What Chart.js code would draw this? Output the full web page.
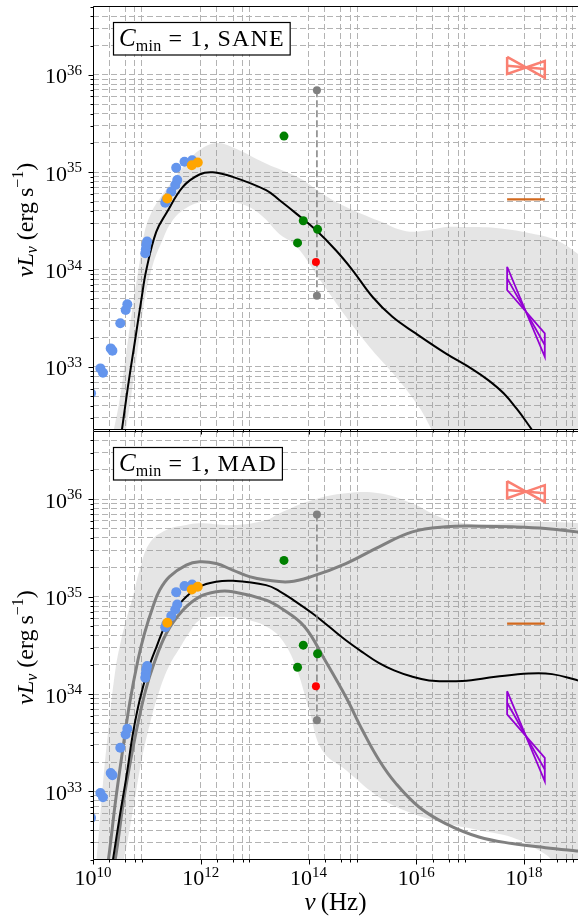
<!DOCTYPE html>
<html><head><meta charset="utf-8">
<script src="https://cdn.jsdelivr.net/npm/chart.js@4.4.0/dist/chart.umd.min.js"></script>
<style>
html,body{margin:0;padding:0;background:#fff;}
#wrap{position:relative;width:578px;height:919px;overflow:hidden;background:#fff;}
canvas{position:absolute;left:0;}
#c1{top:0;} #c2{top:425px;}
</style></head><body>
<div id="wrap"><canvas id="c1" width="578" height="440"></canvas><canvas id="c2" width="578" height="494"></canvas></div>
<script>
// ---------------- data (frequency in Hz, luminosity nuL_nu in erg/s) ----------------
const blueNu = [9.2e9, 8.3e9, 1.37e10, 1.53e10, 2.13e10, 2.29e10, 3.21e10, 4.04e10, 4.34e10, 9.33e10, 9.55e10, 9.75e10, 1.01e11, 2.19e11, 2.29e11, 2.83e11, 3.36e11, 3.66e11, 3.50e11, 4.99e11, 6.93e11];
const blueL  = [5.36e32, 3.79e32, 9.66e32, 8.71e32, 1.55e33, 1.47e33, 2.81e33, 3.84e33, 4.40e33, 1.47e34, 1.62e34, 1.79e34, 1.94e34, 4.85e34, 5.18e34, 6.30e34, 7.38e34, 8.30e34, 1.11e35, 1.28e35, 1.33e35];
const orangeNu = [2.39e11, 6.81e11, 8.79e11];
const orangeL  = [5.38e34, 1.18e35, 1.26e35];
const greenNu = [3.50e13, 7.98e13, 1.47e14, 6.25e13];
const greenL  = [2.35e35, 3.17e34, 2.59e34, 1.88e34];
const redNu = [1.37e14];
const redL  = [1.20e34];
const limNu = [1.43e14, 1.43e14];
const limL  = [6.97e35, 5.38e33];
const xrayNu = [4.84e17, 2.42e18];
const xrayFlatL = [5.27e34, 5.27e34];
const salmonHiL  = [1.53e36, 1.39e36];
const salmonMidL = [1.24e36, 1.15e36];
const salmonLoL  = [1.02e36, 9.3e35];
const violetHiL  = [1.07e34, 2.21e33];
const violetMidL = [8.13e33, 1.68e33];
const violetLoL  = [6.17e33, 1.27e33];

// SANE panel
const saneNu = [2.86e10, 3.44e10, 4.45e10, 5.92e10, 7.87e10, 9.75e10, 1.49e11, 2.29e11, 4.65e11, 9.46e11, 1.67e12, 3.92e12, 1.63e13, 2.86e13, 5.85e13, 1.37e14, 3.21e14, 6.53e14, 1.53e15, 3.60e15, 9.75e15, 3.50e16, 1.09e17, 2.22e17, 4.21e17, 7.33e17, 1.22e18, 1.72e18];
const saneL  = [1.11e32, 2.25e32, 6.27e32, 1.75e33, 4.86e33, 9.89e33, 2.44e34, 3.78e34, 7.08e34, 9.48e34, 1.00e35, 8.97e34, 6.55e34, 5.18e34, 3.78e34, 2.55e34, 1.58e34, 9.89e33, 5.26e33, 3.27e33, 2.21e33, 1.38e33, 9.51e32, 7.24e32, 5.33e32, 3.70e32, 2.52e32, 1.91e32];
const saneUpNu = [2.22e10, 3.12e10, 4.21e10, 5.68e10, 7.33e10, 9.06e10, 1.22e11, 1.87e11, 2.86e11, 4.99e11, 9.46e11, 1.87e12, 3.86e12, 1.58e13, 6.73e13, 1.95e14, 4.99e14, 2.04e15, 6.44e15, 1.72e16, 3.55e16, 7.01e16, 2.99e17, 1.22e18, 3.86e18, 9.46e18, 1.12e19];
const saneUpL  = [1.77e32, 4.57e32, 1.49e33, 4.86e33, 1.19e34, 2.43e34, 3.89e34, 5.69e34, 7.91e34, 1.18e35, 1.69e35, 1.99e35, 1.81e35, 1.24e35, 8.71e34, 5.82e34, 4.39e34, 3.15e34, 2.48e34, 2.54e34, 2.73e34, 2.73e34, 2.67e34, 2.37e34, 2.01e34, 1.48e34, 1.32e34];
const saneLoNu = [2.22e10, 3.86e10, 4.99e10, 6.73e10, 9.06e10, 1.28e11, 1.95e11, 2.86e11, 4.99e11, 9.46e11, 1.95e12, 4.21e12, 7.98e12, 1.51e13, 2.86e13, 5.92e13, 1.79e14, 4.99e14, 1.51e15, 4.21e15, 1.12e16, 1.95e16, 3.26e16, 1.12e19];
const saneLoL  = [1e31, 1.77e32, 4.57e32, 1.49e33, 4.86e33, 1.11e34, 2.01e34, 3.08e34, 4.18e34, 4.93e34, 5.18e34, 4.93e34, 4.39e34, 3.38e34, 2.32e34, 1.74e34, 7.28e33, 3.26e33, 1.49e33, 7.87e32, 3.87e32, 2.25e32, 1.40e32, 1e31];

// MAD panel
const madNu = [2.04e10, 2.34e10, 3.12e10, 4.16e10, 5.51e10, 7.33e10, 1.04e11, 1.49e11, 2.29e11, 4.65e11, 9.46e11, 1.93e12, 3.92e12, 1.63e13, 2.86e13, 5.85e13, 1.19e14, 2.42e14, 4.93e14, 1.00e15, 2.04e15, 3.86e15, 7.98e15, 1.72e16, 7.11e16, 2.95e17, 1.22e18, 3.30e18, 9.46e18, 1.12e19];
const madL  = [1.23e32, 1.97e32, 5.47e32, 1.41e33, 3.93e33, 8.63e33, 1.75e34, 3.00e34, 5.30e34, 9.18e34, 1.26e35, 1.42e35, 1.45e35, 1.31e35, 1.14e35, 8.83e34, 6.70e34, 4.89e34, 3.56e34, 2.69e34, 2.07e34, 1.75e34, 1.52e34, 1.38e34, 1.36e34, 1.50e34, 1.62e34, 1.60e34, 1.39e34, 1.35e34];
const madHiNu = [1.72e10, 2.04e10, 2.63e10, 3.55e10, 4.79e10, 6.81e10, 9.06e10, 1.29e11, 1.72e11, 2.63e11, 5.37e11, 9.46e11, 1.93e12, 3.92e12, 7.98e12, 1.63e13, 4.40e13, 1.19e14, 4.93e14, 2.04e15, 8.43e15, 3.50e16, 1.45e17, 6.00e17, 2.49e18, 9.46e18, 1.12e19];
const madHiL  = [1.23e32, 2.51e32, 8.11e32, 2.65e33, 8.04e33, 2.22e34, 4.21e34, 7.83e34, 1.16e35, 1.60e35, 2.10e35, 2.27e35, 2.18e35, 1.87e35, 1.60e35, 1.48e35, 1.42e35, 1.62e35, 2.18e35, 3.24e35, 4.61e35, 5.20e35, 5.28e35, 5.20e35, 5.00e35, 4.61e35, 4.52e35];
const madLoNu = [2.22e10, 2.75e10, 3.71e10, 4.99e10, 7.01e10, 9.46e10, 1.29e11, 2.29e11, 4.65e11, 9.46e11, 1.93e12, 3.92e12, 1.63e13, 3.30e13, 8.43e13, 1.95e14, 4.93e14, 1.00e15, 2.04e15, 4.16e15, 1.12e16, 3.50e16, 1.45e17, 6.00e17, 2.49e18, 9.46e18, 1.12e19];
const madLoL  = [1.23e32, 2.49e32, 8.13e32, 2.09e33, 5.38e33, 1.09e34, 1.90e34, 4.18e34, 7.24e34, 9.93e34, 1.12e35, 1.12e35, 9.18e34, 7.42e34, 4.90e34, 2.30e34, 9.33e33, 4.25e33, 2.09e33, 1.21e33, 6.93e32, 4.68e32, 3.41e32, 2.92e32, 2.65e32, 2.45e32, 2.43e32];
const madUpNu = [1.03e10, 1.16e10, 1.53e10, 2.04e10, 2.63e10, 3.26e10, 4.21e10, 5.43e10, 7.33e10, 1.12e11, 2.29e11, 5.37e11, 9.46e11, 3.92e12, 1.63e13, 2.86e13, 1.19e14, 4.93e14, 2.04e15, 8.43e15, 2.29e16, 4.65e16, 1.45e17, 6.00e17, 2.49e18, 9.46e18, 1.12e19];
const madUpL  = [1.22e32, 1.97e32, 1.21e33, 5.78e33, 1.84e34, 3.40e34, 6.00e34, 9.64e34, 1.87e35, 3.53e35, 4.81e35, 5.41e35, 5.64e35, 5.41e35, 6.08e35, 7.13e35, 9.77e35, 1.15e36, 1.15e36, 9.04e35, 6.85e35, 5.94e35, 5.53e35, 5.68e35, 5.81e35, 5.68e35, 5.62e35];
const madBLoNu = [1.03e10, 3.26e10, 3.71e10, 4.40e10, 5.92e10, 7.98e10, 1.12e11, 1.72e11, 2.63e11, 4.04e11, 6.18e11, 9.46e11, 1.93e12, 7.98e12, 1.87e13, 3.26e13, 5.68e13, 1.03e14, 1.79e14, 4.99e14, 2.04e15, 8.32e15, 3.55e16, 1.45e17, 5.92e17, 1.87e18, 3.26e18, 5.43e18, 1.12e19];
const madBLoL  = [1e31, 1.22e32, 1.97e32, 3.16e32, 8.13e32, 2.09e33, 4.79e33, 1.09e34, 1.98e34, 2.95e34, 4.31e34, 5.73e34, 6.19e34, 5.73e34, 4.74e34, 3.56e34, 1.98e34, 6.82e33, 2.65e33, 1.65e33, 8.73e32, 5.97e32, 4.71e32, 4.00e32, 3.39e32, 2.49e32, 1.97e32, 1.22e32, 1e31];

// ticks
const xMajorExps = [10, 12, 14, 16, 18];
const xMinorMults = [2, 4, 6, 8];
const yMajorExps = [32, 33, 34, 35, 36];
const yMinorMults = [2, 3, 4, 5, 6, 7, 8, 9];
const xLabelExps = [10, 12, 14, 16, 18];
const yLabelExps = [33, 34, 35, 36];
const panelNames = ['SANE', 'MAD'];

// ---------------- helpers ----------------
const FAM = '"Liberation Serif","DejaVu Serif",serif';
const X_MIN = 1e10, X_MAX = 1e19;
const xGridVals = xMajorExps.flatMap(e => [1, ...xMinorMults].map(m => m * Math.pow(10, e))).filter(v => v >= X_MIN && v <= X_MAX);
function yGridVals(min, max) {
  return yMajorExps.flatMap(e => [1, ...yMinorMults].map(m => m * Math.pow(10, e))).filter(v => v >= min && v <= max);
}
function isMajor(v) { const l = Math.log10(v); return Math.abs(l - Math.round(l)) < 1e-6; }
function pts(xs, ys) { return xs.map((x, i) => ({x: x, y: ys[i]})); }
function fnt(r) { return (r[2] ? 'italic ' : '') + r[1] + 'px ' + FAM; }
function runsWidth(ctx, runs) {
  let w = 0;
  runs.forEach(r => { ctx.font = fnt(r); ctx.letterSpacing = (r[4] || 0) + 'px'; w += ctx.measureText(r[0]).width; });
  ctx.letterSpacing = '0px';
  return w;
}
function drawRuns(ctx, runs, x, y, align) {
  const w = runsWidth(ctx, runs);
  let cx = align === 'center' ? x - w / 2 : (align === 'right' ? x - w : x);
  ctx.textAlign = 'left'; ctx.textBaseline = 'alphabetic'; ctx.fillStyle = '#000';
  runs.forEach(r => {
    ctx.font = fnt(r); ctx.letterSpacing = (r[4] || 0) + 'px';
    ctx.fillText(r[0], cx, y + (r[3] || 0)); cx += ctx.measureText(r[0]).width;
  });
  ctx.letterSpacing = '0px';
  return w;
}

const decor = {
  id: 'decor',
  afterDraw(chart, args, o) {
    const ctx = chart.ctx, a = chart.chartArea, xs = chart.scales.x, ys = chart.scales.y;
    ctx.save();
    ctx.strokeStyle = '#000'; ctx.lineWidth = 1;
    ys.ticks.forEach(t => {
      const y = Math.round(ys.getPixelForValue(t.value)) + 0.5;
      ctx.beginPath(); ctx.moveTo(a.left, y); ctx.lineTo(a.left - (isMajor(t.value) ? 4.5 : 2.5), y); ctx.stroke();
    });
    xs.ticks.forEach(t => {
      const x = Math.round(xs.getPixelForValue(t.value)) + 0.5;
      ctx.beginPath(); ctx.moveTo(x, a.bottom); ctx.lineTo(x, a.bottom + (isMajor(t.value) ? 4.5 : 2.5)); ctx.stroke();
    });
    ctx.beginPath();
    ctx.moveTo(a.right + 1, a.top + 0.5); ctx.lineTo(a.left + 0.5, a.top + 0.5);
    ctx.lineTo(a.left + 0.5, a.bottom - 0.5); ctx.lineTo(a.right + 1, a.bottom - 0.5);
    ctx.stroke();
    yLabelExps.forEach(e => {
      const v = Math.pow(10, e);
      if (v < ys.min || v > ys.max) return;
      const y = ys.getPixelForValue(v);
      drawRuns(ctx, [['10', 22, false, 0], [String(e), 15, false, -8.3]], 82, y + 8.5, 'right');
    });
    if (o.showX) {
      xLabelExps.forEach(e => {
        const x = xs.getPixelForValue(Math.pow(10, e));
        drawRuns(ctx, [['10', 22, false, 0], [String(e), 15, false, -8.3]], x, a.bottom + 25, 'center');
      });
      drawRuns(ctx, [['\u03BD', 25, true], ['\u2009(Hz)', 25, false]], (a.left + a.right) / 2, a.bottom + 50, 'center');
    }
    ctx.save();
    ctx.translate(33, (a.top + a.bottom) / 2 + 2);
    ctx.rotate(-Math.PI / 2);
    drawRuns(ctx, [['\u03BD', 24, true], ['L', 24, true], ['\u03BD', 16, true, 4], [' (erg\u2009s', 24, false], ['\u22121', 16, false, -10], [')', 24, false]], 0, 0, 'center');
    ctx.restore();
    const runs = [['C', 25, true, 0, 0], ['min', 16, false, 5, 0.3], [' = 1, ' + o.panel, 24, false, 0, 1.1]];
    const w = runsWidth(ctx, runs);
    const bx = 113, by = a.top + 16, bw = w + 11, bh = 32.5;
    ctx.fillStyle = '#fff'; ctx.fillRect(bx, by, bw, bh);
    ctx.strokeStyle = '#000'; ctx.lineWidth = 1.2; ctx.strokeRect(bx + 0.5, by + 0.5, bw, bh);
    drawRuns(ctx, runs, bx + 6, by + 24, 'left');
    ctx.restore();
  }
};

function curve(nu, L, color, width, order) {
  return {data: pts(nu, L), borderColor: color, borderWidth: width, pointRadius: 0, fill: false,
    tension: 0.4, capBezierPoints: false, order: order};
}
function band(upNu, upL, loNu, loL) {
  return [
    {data: pts(upNu, upL), borderColor: 'rgba(0,0,0,0)', borderWidth: 0, pointRadius: 0, fill: '+1',
      backgroundColor: 'rgba(150,150,150,0.25)', tension: 0.4, capBezierPoints: false, order: 20},
    {data: pts(loNu, loL), borderColor: 'rgba(0,0,0,0)', borderWidth: 0, pointRadius: 0, fill: false,
      tension: 0.4, capBezierPoints: false, order: 19}
  ];
}
function bowtie(hi, lo) {
  return pts([xrayNu[0], xrayNu[1], xrayNu[1], xrayNu[0], xrayNu[0]], [hi[0], lo[1], hi[1], lo[0], hi[0]]);
}
function scatterDS(nu, L, color, r, order) {
  return {data: pts(nu, L), showLine: false, pointRadius: r, pointBackgroundColor: color, pointBorderColor: color,
    pointBorderWidth: 0, borderWidth: 0, clip: 0, order: order};
}
function marks() {
  return [
    {data: pts(xrayNu, xrayFlatL), borderColor: '#D2691E', borderWidth: 2.2, pointRadius: 0, order: 4},
    {data: bowtie(salmonHiL, salmonLoL), borderColor: '#FA8072', borderWidth: 2.5, pointRadius: 0, order: 4},
    {data: pts(xrayNu, salmonMidL), borderColor: '#FA8072', borderWidth: 2.5, pointRadius: 0, order: 4},
    {data: bowtie(violetHiL, violetLoL), borderColor: '#9400D3', borderWidth: 1.8, pointRadius: 0, order: 4},
    {data: pts(xrayNu, violetMidL), borderColor: '#9400D3', borderWidth: 1.8, pointRadius: 0, order: 4},
    {data: pts(limNu, limL), borderColor: '#808080', borderWidth: 1.5, borderDash: [7, 3], pointRadius: 0, order: 4},
    scatterDS(limNu, limL, '#808080', 4, 1),
    scatterDS(redNu, redL, '#FF0000', 4, 1),
    scatterDS(greenNu, greenL, '#008000', 4.5, 2),
    scatterDS(orangeNu, orangeL, '#FFA500', 5, 2),
    scatterDS(blueNu, blueL, '#6495ED', 5, 3)
  ];
}

function build(canvas, yMin, yMax, xAxisH, panel, showX, datasets) {
  return new Chart(canvas, {
    type: 'line',
    data: {datasets: datasets},
    options: {
      responsive: false, animation: false, devicePixelRatio: 1, events: [],
      layout: {autoPadding: false, padding: {top: 6, left: 0, right: 0, bottom: 0}},
      plugins: {legend: {display: false}, tooltip: {enabled: false}, decor: {panel: panel, showX: showX}},
      scales: {
        x: {type: 'logarithmic', min: X_MIN, max: X_MAX,
          afterBuildTicks: s => { s.ticks = xGridVals.map(v => ({value: v})); },
          afterFit: s => { s.height = xAxisH; },
          ticks: {display: false},
          grid: {color: '#b3b3b3', lineWidth: 1, drawTicks: false},
          border: {display: false, dash: [6, 3]}},
        y: {type: 'logarithmic', min: yMin, max: yMax,
          afterBuildTicks: s => { s.ticks = yGridVals(yMin, yMax).map(v => ({value: v})); },
          afterFit: s => { s.width = 93; },
          ticks: {display: false},
          grid: {color: '#b3b3b3', lineWidth: 1, drawTicks: false},
          border: {display: false, dash: [6, 3]}}
      }
    },
    plugins: [decor]
  });
}

build(document.getElementById('c1'), 2.25e32, 5.1e36, 10, panelNames[0], false,
  [...marks(), curve(saneNu, saneL, '#000000', 2, 5), ...band(saneUpNu, saneUpL, saneLoNu, saneLoL)]);
build(document.getElementById('c2'), 1.98e32, 5.0e36, 59, panelNames[1], true,
  [...marks(), curve(madNu, madL, '#000000', 2, 5), curve(madHiNu, madHiL, '#808080', 3, 6), curve(madLoNu, madLoL, '#808080', 3, 6),
   ...band(madUpNu, madUpL, madBLoNu, madBLoL)]);
</script>
</body></html>
